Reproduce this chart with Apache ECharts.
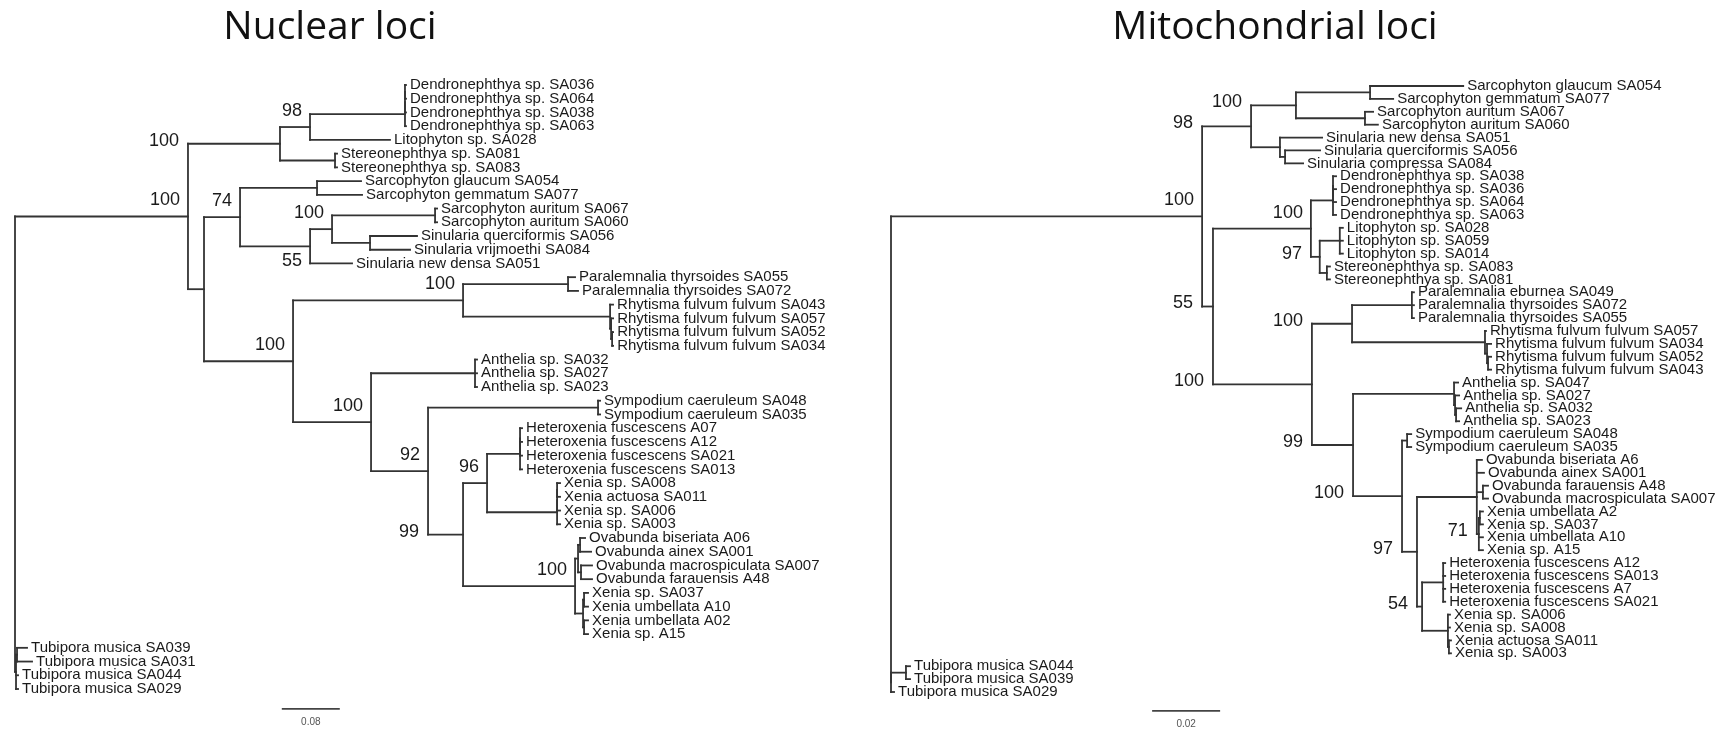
<!DOCTYPE html>
<html>
<head>
<meta charset="utf-8">
<script src="https://cdn.jsdelivr.net/npm/echarts@6/dist/echarts.min.js"></script>
<style>
  html, body { margin: 0; padding: 0; background: #ffffff; }
  #chart { width: 1725px; height: 731px; }
</style>
</head>
<body>
<div id="chart"></div>
<script>
// ---------------------------------------------------------------------------
// Tree data: Newick topologies, branch lengths in substitutions per site,
// internal-node labels are bootstrap support values.
// ---------------------------------------------------------------------------
const treeTitles = ['Nuclear loci', 'Mitochondrial loci'];

const nuclearNewick =
  '(' +
   '(' +
    '(' +
     '(' +
      '(((Dendronephthya sp. SA036:0.0014,Dendronephthya sp. SA064:0.0014):0,Dendronephthya sp. SA038:0.0014):0,Dendronephthya sp. SA063:0.0014):0.1310,' +
      'Litophyton sp. SA028:0.1103' +
     ')98:0.0414,' +
     '(Stereonephthya sp. SA081:0.0028,Stereonephthya sp. SA083:0.0028):0.0759' +
    ')100:0.1269,' +
    '(' +
     '(' +
      '(Sarcophyton glaucum SA054:0.0607,Sarcophyton gemmatum SA077:0.0621):0.1062,' +
      '(' +
       '(' +
        '(Sarcophyton auritum SA067:0.0028,Sarcophyton auritum SA060:0.0028):0.1421,' +
        '(Sinularia querciformis SA056:0.0648,Sinularia vrijmoethi SA084:0.0552):0.0524' +
       ')100:0.0303,' +
       'Sinularia new densa SA051:0.0579' +
      ')55:0.0966' +
     ')74:0.0497,' +
     '(' +
      '(' +
       '(Paralemnalia thyrsoides SA055:0.0097,Paralemnalia thyrsoides SA072:0.0138):0.1448,' +
       '(Rhytisma fulvum fulvum SA043:0.0041,(Rhytisma fulvum fulvum SA057:0.0028,(Rhytisma fulvum fulvum SA052:0.0014,Rhytisma fulvum fulvum SA034:0.0014):0.0014):0.0014):0.2028' +
      ')100:0.2345,' +
      '(' +
       '(Anthelia sp. SA032:0.0028,Anthelia sp. SA027:0.0028,Anthelia sp. SA023:0.0028):0.1434,' +
       '(' +
        '(Sympodium caeruleum SA048:0.0028,Sympodium caeruleum SA035:0.0028):0.2345,' +
        '(' +
         '(' +
          '((Heteroxenia fuscescens A07:0.0028,(Heteroxenia fuscescens A12:0.0028,Heteroxenia fuscescens SA021:0.0028):0):0,Heteroxenia fuscescens SA013:0.0028):0.0455,' +
          '(((Xenia sp. SA008:0.0041,Xenia actuosa SA011:0.0041):0,Xenia sp. SA006:0.0041):0,Xenia sp. SA003:0.0041):0.0966' +
         ')96:0.0331,' +
         '(' +
          '((Ovabunda biseriata A06:0.0069,Ovabunda ainex SA001:0.0152):0.0028,(Ovabunda macrospiculata SA007:0.0152,Ovabunda farauensis A48:0.0152):0.0041):0.0041,' +
          '((Xenia sp. SA037:0.0055,Xenia umbellata A10:0.0055):0.0014,(Xenia umbellata A02:0.0055,Xenia sp. A15:0.0055):0.0014):0.0110' +
         ')100:0.1545' +
        ')99:0.0483' +
       ')92:0.0786' +
      ')100:0.1076' +
     ')100:0.1228' +
    '):0.0221' +
   ')100:0.2386,' +
   '((Tubipora musica SA039:0.0138,Tubipora musica SA031:0.0207):0.0014,Tubipora musica SA044:0.0028,Tubipora musica SA029:0.0028):0.0014' +
  ');';

const mitoNewick =
  '(' +
   '(' +
    '(' +
     '((Sarcophyton glaucum SA054:0.0274,Sarcophyton gemmatum SA077:0.0068):0.0218,(Sarcophyton auritum SA067:0.0024,Sarcophyton auritum SA060:0.0038):0.0203)100:0.0132,' +
     '(Sinularia new densa SA051:0.0124,(Sinularia querciformis SA056:0.0103,Sinularia compressa SA084:0.0053):0.0015):0.0085' +
    ')98:0.0144,' +
    '(' +
     '(' +
      '((Dendronephthya sp. SA038:0.0009,(Dendronephthya sp. SA036:0.0009,Dendronephthya sp. SA064:0.0009):0):0,Dendronephthya sp. SA063:0.0009):0.0065,' +
      '((Litophyton sp. SA028:0.0009,Litophyton sp. SA059:0.0009,Litophyton sp. SA014:0.0009):0.0059,(Stereonephthya sp. SA083:0.0009,Stereonephthya sp. SA081:0.0009):0.0021)97:0.0026' +
     ')100:0.0288,' +
     '(' +
      '((Paralemnalia eburnea SA049:0.0006,Paralemnalia thyrsoides SA072:0.0006,Paralemnalia thyrsoides SA055:0.0006):0.0176,' +
       '(Rhytisma fulvum fulvum SA057:0.0003,(Rhytisma fulvum fulvum SA034:0.0012,(Rhytisma fulvum fulvum SA052:0.0009,Rhytisma fulvum fulvum SA043:0.0009):0.0003):0.0006):0.0391' +
      ')100:0.0118,' +
      '(' +
       '(Anthelia sp. SA047:0.0012,(Anthelia sp. SA027:0.0012,(Anthelia sp. SA032:0.0015,Anthelia sp. SA023:0.0009):0.0003):0.0003):0.0297,' +
       '(' +
        '(Sympodium caeruleum SA048:0.0012,Sympodium caeruleum SA035:0.0012):0.0015,' +
        '(' +
         '(Ovabunda biseriata A6:0.0015,Ovabunda ainex SA001:0.0021,(Ovabunda farauensis A48:0.0015,Ovabunda macrospiculata SA007:0.0015):0.0018,' +
          '((Xenia umbellata A2:0.0009,Xenia sp. SA037:0.0009):0.0003,Xenia umbellata A10:0.0012,Xenia sp. A15:0.0012)71:0.0006' +
         '):0.0176,' +
         '((Heteroxenia fuscescens A12:0.0006,Heteroxenia fuscescens SA013:0.0006,Heteroxenia fuscescens A7:0.0006,Heteroxenia fuscescens SA021:0.0006):0.0062,' +
          '(Xenia sp. SA006:0.0006,Xenia sp. SA008:0.0006,(Xenia actuosa SA011:0.0006,Xenia sp. SA003:0.0006):0.0003):0.0076' +
         ')54:0.0015' +
        ')97:0.0044' +
       ')100:0.0144' +
      ')99:0.0121' +
     ')100:0.0291' +
    ')55:0.0032' +
   ')100:0.0915,' +
   '((Tubipora musica SA044:0.0012,Tubipora musica SA039:0.0012):0.0044,Tubipora musica SA029:0.0009):0' +
  ');';

// Where each support value sits, in pre-order of the labelled nodes:
// 'above' / 'below' = beside its own node, 'parent' = beside the parent's
// vertical line, on the node's branch.
const nuclearSupportPlacement = ['above', 'parent', 'above', 'above', 'below', 'above',
  'above', 'above', 'above', 'above', 'parent', 'above', 'above'];
const mitoSupportPlacement = ['above', 'parent', 'parent', 'parent', 'above', 'parent',
  'parent', 'parent', 'parent', 'parent', 'parent', 'parent', 'parent'];

// Scale bars (substitutions per site)
const scaleBarLengths = [0.08, 0.02];
const scaleBarLabels = ['0.08', '0.02'];

// ---------------------------------------------------------------------------
// Layout (axis ranges and placement of the scale bars, in axis units)
// ---------------------------------------------------------------------------
const layout = {
  grids: [
    { left: 15, top: 85, width: 725, bottom: 42, xMax: 1.0 },
    { left: 891, top: 86, width: 816, bottom: 39, xMax: 0.24 }
  ],
  scaleBarAnchor: [[0.368, 45.45], [0.0768, 48.47]]
};

const LINE_COLOR = '#333333';
const TEXT_COLOR = '#1a1a1a';
const FONT_FAMILY = '"Liberation Sans", Arial, sans-serif';
const TAXON_SIZE = 15;
const SUPPORT_SIZE = 18;

// ---------------------------------------------------------------------------
// Newick parsing and rectangular cladogram layout
// ---------------------------------------------------------------------------
function parseNewick(str) {
  const s = str.replace(/\s*([(),:;])\s*/g, '$1');
  let i = 0;
  function readNode() {
    const node = { children: [], name: '', len: 0 };
    if (s[i] === '(') {
      i++;
      node.children.push(readNode());
      while (s[i] === ',') { i++; node.children.push(readNode()); }
      i++; // ')'
    }
    let start = i;
    while (i < s.length && ':,);'.indexOf(s[i]) < 0) i++;
    node.name = s.slice(start, i).trim();
    if (s[i] === ':') {
      i++;
      start = i;
      while (i < s.length && ',);'.indexOf(s[i]) < 0) i++;
      node.len = parseFloat(s.slice(start, i));
    }
    return node;
  }
  return readNode();
}

function layoutTree(root, placements) {
  const nodes = [];
  let leafIndex = 0;
  (function walk(n, depth, parentDepth) {
    n.x = depth;
    n.parentX = parentDepth;
    if (!n.children.length) {
      n.y = leafIndex++;
    } else {
      n.children.forEach(c => walk(c, depth + c.len, depth));
      n.y0 = n.children[0].y;
      n.y1 = n.children[n.children.length - 1].y;
      n.y = (n.y0 + n.y1) / 2;
    }
    nodes.push(n);
  })(root, 0, null);
  const labelled = [];
  (function pre(n) {
    if (n.children.length && n.name) labelled.push(n);
    n.children.forEach(pre);
  })(root);
  labelled.forEach((n, k) => { n.placement = placements[k] || 'above'; });
  return { nodes, leafCount: leafIndex };
}

const trees = [
  layoutTree(parseNewick(nuclearNewick), nuclearSupportPlacement),
  layoutTree(parseNewick(mitoNewick), mitoSupportPlacement)
];

const lineStyle = { stroke: LINE_COLOR, lineWidth: 1.8, lineCap: 'square' };

function textStyle(text, size, align) {
  return {
    text: text, fontSize: size, fontFamily: FONT_FAMILY, fontWeight: 'normal',
    fill: TEXT_COLOR, align: align, verticalAlign: 'middle'
  };
}

function treeRenderer(nodes) {
  return function (params, api) {
    const n = nodes[params.dataIndex];
    const p = api.coord([api.value(0), api.value(1)]);
    const els = [];
    if (n.parentX !== null) {
      const a = api.coord([n.parentX, n.y]);
      els.push({ type: 'line', shape: { x1: a[0], y1: p[1], x2: p[0], y2: p[1] }, style: lineStyle });
    }
    if (n.children.length) {
      const top = api.coord([n.x, n.y0]);
      const bot = api.coord([n.x, n.y1]);
      els.push({ type: 'line', shape: { x1: p[0], y1: top[1], x2: p[0], y2: bot[1] }, style: lineStyle });
      if (n.name) {
        let tx = p[0] - 8, ty = p[1] - 16;
        if (n.placement === 'below') { ty = p[1] + 15; }
        else if (n.placement === 'parent') {
          const a = api.coord([n.parentX, n.y]);
          tx = a[0] - 9; ty = p[1] - 3;
        }
        els.push({ type: 'text', x: tx, y: ty, style: textStyle(n.name, SUPPORT_SIZE, 'right') });
      }
    } else {
      els.push({ type: 'text', x: p[0] + 4, y: p[1], style: textStyle(n.name, TAXON_SIZE, 'left') });
    }
    return { type: 'group', children: els };
  };
}

function scaleBarRenderer(k) {
  return function (params, api) {
    const x0 = api.value(0), y = api.value(1);
    const a = api.coord([x0, y]);
    const b = api.coord([x0 + scaleBarLengths[k], y]);
    return {
      type: 'group',
      children: [
        { type: 'line', shape: { x1: a[0], y1: a[1], x2: b[0], y2: b[1] }, style: { stroke: '#444', lineWidth: 1.8 } },
        { type: 'text', x: (a[0] + b[0]) / 2, y: a[1] + 13,
          style: { text: scaleBarLabels[k], fontSize: 10, fontFamily: FONT_FAMILY, fill: '#555', align: 'center', verticalAlign: 'middle' } }
      ]
    };
  };
}

const grid = layout.grids.map(g => ({ left: g.left, top: g.top, width: g.width, bottom: g.bottom, containLabel: false }));
const xAxis = layout.grids.map((g, k) => ({ type: 'value', gridIndex: k, min: 0, max: g.xMax, show: false }));
const yAxis = trees.map((t, k) => ({ type: 'value', gridIndex: k, min: 0, max: t.leafCount - 1, inverse: true, show: false }));

const series = [];
trees.forEach((t, k) => {
  series.push({
    type: 'custom', xAxisIndex: k, yAxisIndex: k, silent: true,
    renderItem: treeRenderer(t.nodes),
    data: t.nodes.map(n => [n.x, n.y])
  });
  series.push({
    type: 'custom', xAxisIndex: k, yAxisIndex: k, silent: true,
    renderItem: scaleBarRenderer(k),
    data: [layout.scaleBarAnchor[k]]
  });
});

const titleStyle = (text) => ({
  text: text, fontSize: 39, fontFamily: '"Open Sans", sans-serif', fontWeight: 'normal',
  fill: '#111', align: 'center', verticalAlign: 'middle'
});

const chart = echarts.init(document.getElementById('chart'), null, { renderer: 'canvas' });
chart.setOption({
  backgroundColor: '#ffffff',
  animation: false,
  grid, xAxis, yAxis, series,
  graphic: [
    { type: 'text', x: 330, y: 28, silent: true, style: titleStyle(treeTitles[0]) },
    { type: 'text', x: 1275, y: 28, silent: true, style: titleStyle(treeTitles[1]) }
  ]
});
</script>
</body>
</html>
